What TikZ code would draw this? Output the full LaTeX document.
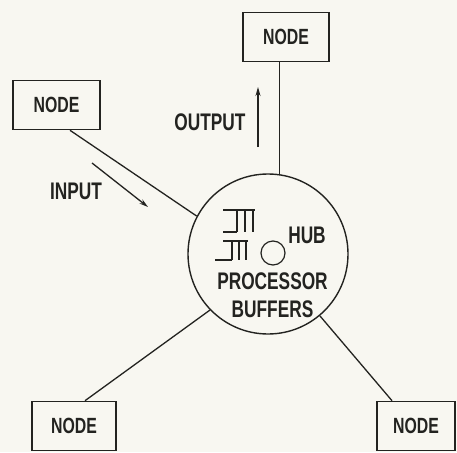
\documentclass[tikz,border=0pt]{standalone}
\usepackage{fontspec}
\newfontfamily\lbl[FakeStretch=0.72]{Liberation Sans}
\usetikzlibrary{arrows.meta}
\definecolor{bg}{RGB}{248,247,241}
\definecolor{ink}{RGB}{35,35,32}
\begin{document}
\begin{tikzpicture}[x=1pt,y=-1pt,
  ink line/.style={draw=ink,line width=1.3pt},
  nodebox/.style={draw=ink,line width=1.6pt,fill=bg,minimum width=#1,minimum height=49pt,inner sep=0pt,font=\lbl\bfseries\fontsize{22}{22}\selectfont,text=ink},
  lab/.style={font=\lbl\bfseries\fontsize{24}{24}\selectfont,text=ink,inner sep=0pt},
  flow/.style={draw=ink,line width=1.3pt,-{Stealth[length=9pt,width=5pt]}}]
\fill[bg] (0,0) rectangle (457,452);
\useasboundingbox (0,0) rectangle (457,452);
% hub
\node[circle,draw=ink,line width=1.4pt,minimum size=160pt,inner sep=0pt] (hub) at (268,254) {};
% nodes
\node[nodebox=86pt] (top) at (286,37) {NODE};
\node[nodebox=87pt] (lt) at (56.5,105) {NODE};
\node[nodebox=84pt] (bl) at (74,426) {NODE};
\node[nodebox=78pt] (br) at (416,426) {NODE};
% connectors
\draw[ink line] (hub.82.8) -- (hub.82.8 |- top.south);
\draw[ink line] (hub.152.5) -- ([xshift=13.5pt]lt.south);
\draw[ink line] (hub.224) -- ([xshift=11pt]bl.north);
\draw[ink line] (hub.-50) -- ([xshift=-24pt]br.north);
% flow labels
\node[lab] (outlbl) at (210,122) {OUTPUT};
\node[lab] (inlbl) at (76,191.5) {INPUT};
\coordinate (o1) at (258,147);
\coordinate (o2) at (258,87);
\coordinate (i1) at (92,163);
\coordinate (i2) at (148,207);
\draw[flow] (o1) -- (o2);
\draw[flow] (i1) -- (i2);
% inner contents
\node[circle,draw=ink,line width=1.2pt,minimum size=24pt,inner sep=0pt] (small) at (273,253) {};
\node[lab] (hublbl) at (307,235) {HUB};
\node[lab] (proc) at (272.5,281) {PROCESSOR};
\node[lab] (buf) at (272.5,309) {BUFFERS};
% buffer symbols
\draw[ink,line width=1.4pt] (223,210) -- (255,210)
  (237,210) -- (237,232) (245,210) -- (245,232) (253,210) -- (253,232)
  (223,232) -- (237,232);
\draw[ink,line width=1.4pt] (223,241) -- (248,241)
  (232,241) -- (232,260) (239,241) -- (239,260) (246,241) -- (246,260)
  (215,260) -- (232,260);
\end{tikzpicture}
\end{document}
